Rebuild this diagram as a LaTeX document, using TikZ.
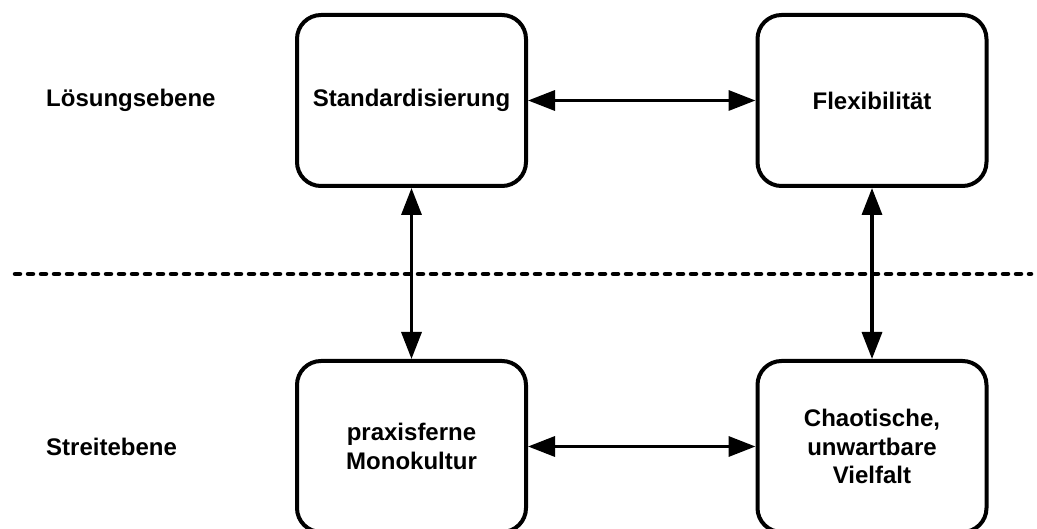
\documentclass[tikz,border=0pt]{standalone}
\usepackage{fontspec}
\setmainfont{Liberation Sans}
\usetikzlibrary{arrows.meta}
\tikzset{
  box/.style={draw=black, line width=4pt, rounded corners=24pt, minimum width=229pt, minimum height=171pt, align=center, font=\fontsize{24}{28.5}\selectfont\bfseries, inner sep=0pt},
  lbl/.style={anchor=west, font=\fontsize{24}{28.5}\selectfont\bfseries, inner sep=0pt},
  conn/.style={line width=3.4pt, {Triangle[length=27pt,width=20pt]}-{Triangle[length=27pt,width=20pt]}},
  sep/.style={line width=4.5pt, line cap=round, dash pattern=on 5pt off 8pt}
}
\begin{document}
\begin{tikzpicture}[x=1pt,y=-1pt]
\useasboundingbox (0,0) rectangle (1037,529);
\node[box] (std) at (411.5,100.5) {Standardisierung};
\node[box] (flex) at (872,100.5) {Flexibilität};
\node[box] (mono) at (411.5,446.5) {praxisferne\\Monokultur};
\node[box] (chaos) at (872,446.5) {Chaotische,\\unwartbare\\Vielfalt};
\node[lbl] (l1) at (46,100.5) {Lösungsebene};
\node[lbl] (l2) at (46,447) {Streitebene};
\coordinate (dl) at (15,274);
\coordinate (dr) at (1031,274);
\draw[sep] (dl) -- (dr);
\draw[conn] (std) -- (flex);
\draw[conn] (mono) -- (chaos);
\draw[conn] (std) -- (mono);
\draw[conn] (flex) -- (chaos);
\end{tikzpicture}
\end{document}
